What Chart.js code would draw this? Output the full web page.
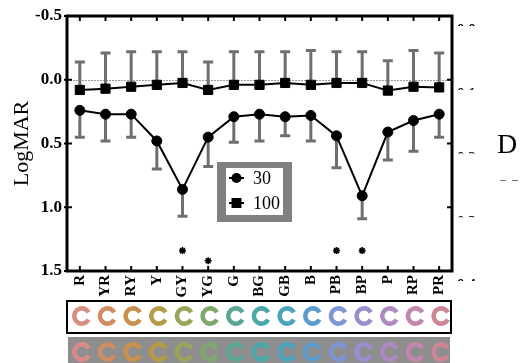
<!DOCTYPE html><html><head>
<title>LogMAR chart</title>
<style>body{margin:0;background:#fff}</style>
</head>
<body>
<canvas id="chart" width="521" height="363"></canvas>
<script src="https://cdn.jsdelivr.net/npm/chart.js"></script>
<script>
const categories = ['R','YR','RY','Y','GY','YG','G','BG','GB','B','PB','BP','P','RP','PR'];
// mean LogMAR and end of the error bar
const logmar30  = [0.24,0.27,0.27,0.48,0.86,0.45,0.29,0.27,0.29,0.28,0.44,0.91,0.41,0.32,0.27];
const low30     = [0.45,0.48,0.45,0.70,1.07,0.68,0.49,0.48,0.44,0.48,0.69,1.09,0.63,0.56,0.45];
const logmar100 = [0.08,0.07,0.055,0.04,0.025,0.08,0.04,0.04,0.025,0.04,0.025,0.025,0.085,0.055,0.06];
const high100   = [-0.14,-0.21,-0.22,-0.22,-0.22,-0.14,-0.22,-0.22,-0.22,-0.23,-0.22,-0.22,-0.15,-0.23,-0.21];
const stars     = [null,null,null,null,1.34,1.42,null,null,null,null,1.34,1.34,null,null,null];
const rightTicks = ['0.4','0.3','0.2','0.1','0.0'];
const swatches = ['#d98c85','#d08c62','#c99150','#b59b48','#9ba458','#80a86e','#5aa894','#4aa8a8',
                  '#4aa3bf','#5b9ccd','#7d95d2','#9b8ed0','#b089c2','#c586ae','#cf8594'];

const serif = "'Liberation Serif', 'Times New Roman', serif";

const decor = {
  id: 'decor',
  beforeDatasetsDraw(chart) {
    const {ctx, chartArea: a, scales: {x, y}} = chart;
    ctx.save();
    // dotted zero line
    ctx.strokeStyle = '#999'; ctx.lineWidth = 1; ctx.setLineDash([2, 1]);
    const y0 = Math.round(y.getPixelForValue(0)) + 0.5;
    ctx.beginPath(); ctx.moveTo(a.left, y0); ctx.lineTo(a.right, y0); ctx.stroke();
    ctx.setLineDash([]);
    // error bars
    ctx.strokeStyle = '#6f6f6f'; ctx.lineWidth = 3;
    const bars = (vals, ends) => vals.forEach((v, i) => {
      const px = x.getPixelForValue(i), p0 = y.getPixelForValue(v), p1 = y.getPixelForValue(ends[i]);
      ctx.beginPath();
      ctx.moveTo(px, p0); ctx.lineTo(px, p1);
      ctx.moveTo(px - 5, p1); ctx.lineTo(px + 5, p1);
      ctx.stroke();
    });
    bars(logmar30, low30);
    bars(logmar100, high100);
    ctx.restore();
  },
  afterDraw(chart) {
    const {ctx, chartArea: a, scales: {x, y}} = chart;
    ctx.save();
    // frame + inward ticks
    ctx.strokeStyle = '#000'; ctx.lineWidth = 3;
    ctx.strokeRect(a.left, a.top, a.right - a.left, a.bottom - a.top);
    ctx.lineWidth = 2;
    ctx.beginPath();
    y.ticks.forEach(t => {
      const py = y.getPixelForValue(t.value);
      ctx.moveTo(a.left - 3, py); ctx.lineTo(a.left + 5, py);
      ctx.moveTo(a.right - 5, py); ctx.lineTo(a.right, py);
    });
    categories.forEach((c, i) => {
      const px = x.getPixelForValue(i);
      ctx.moveTo(px, a.top); ctx.lineTo(px, a.top + 5);
      ctx.moveTo(px, a.bottom); ctx.lineTo(px, a.bottom - 5);
    });
    ctx.stroke();

    // right axis labels, only their top edge is visible
    ctx.fillStyle = '#000'; ctx.font = 'bold 15px ' + serif; ctx.textBaseline = 'top';
    y.ticks.forEach((t, i) => {
      const py = y.getPixelForValue(t.value);
      ctx.save();
      ctx.beginPath(); ctx.rect(a.right + 3, py + 7, 30, 3); ctx.clip();
      ctx.fillText(rightTicks[i], a.right + 5, py + 7);
      ctx.restore();
    });
    ctx.font = '28px ' + serif; ctx.textBaseline = 'alphabetic';
    ctx.fillText('D', 497, 153);
    ctx.strokeStyle = '#777'; ctx.lineWidth = 1;
    ctx.beginPath(); ctx.moveTo(500, 180.5); ctx.lineTo(506, 180.5); ctx.moveTo(512, 180.5); ctx.lineTo(518, 180.5); ctx.stroke();

    // legend
    ctx.fillStyle = '#808080'; ctx.fillRect(217, 162, 75, 60);
    ctx.fillStyle = '#fff'; ctx.fillRect(226, 168, 57, 47);
    const rows = [[178, 'circle'], [203, 'rect']];
    chart.data.datasets.slice(0, 2).forEach((ds, i) => {
      const ry = rows[i][0];
      ctx.strokeStyle = '#000'; ctx.fillStyle = '#000'; ctx.lineWidth = 2;
      ctx.beginPath(); ctx.moveTo(229, ry); ctx.lineTo(244, ry); ctx.stroke();
      ctx.beginPath();
      if (rows[i][1] === 'circle') ctx.arc(236.5, ry, 5, 0, Math.PI * 2);
      else ctx.rect(231.5, ry - 5, 10, 10);
      ctx.fill();
      ctx.font = '18px ' + serif; ctx.textBaseline = 'middle';
      ctx.fillText(ds.label, 253, ry + 1);
    });

    // colour samples under the axis
    ctx.fillStyle = '#fff'; ctx.fillRect(67, 301, 384, 32);
    ctx.strokeStyle = '#000'; ctx.lineWidth = 2; ctx.strokeRect(67, 301, 384, 32);
    ctx.fillStyle = '#8e8e8e'; ctx.fillRect(68, 337, 382, 26);
    ctx.lineWidth = 4.5;
    swatches.forEach((col, i) => {
      const px = x.getPixelForValue(i) + 2;
      [316, 352].forEach(cy => {
        ctx.strokeStyle = col;
        ctx.beginPath(); ctx.arc(px, cy, 7.6, 0.5, Math.PI * 2 - 0.5); ctx.stroke();
      });
    });
    ctx.restore();
  }
};

new Chart(document.getElementById('chart').getContext('2d'), {
  type: 'line',
  data: {
    labels: categories,
    datasets: [
      {label: '30', data: logmar30, borderColor: '#000', backgroundColor: '#000', borderWidth: 2,
       pointStyle: 'circle', pointRadius: 5, pointBorderWidth: 1},
      {label: '100', data: logmar100, borderColor: '#000', backgroundColor: '#000', borderWidth: 2,
       pointStyle: 'rect', pointRadius: 6.5, pointBorderWidth: 1},
      {label: 'sig', data: stars, showLine: false, borderColor: '#000', backgroundColor: '#000',
       pointStyle: 'star', pointRadius: 3.5, pointBorderWidth: 1.6}
    ]
  },
  options: {
    responsive: false,
    animation: false,
    devicePixelRatio: 1,
    layout: {padding: {top: 16, right: 69, bottom: 0, left: 0}},
    plugins: {legend: {display: false}, tooltip: {enabled: false}},
    scales: {
      x: {
        offset: true,
        grid: {display: false, drawTicks: false},
        border: {display: false},
        ticks: {autoSkip: false, minRotation: 90, maxRotation: 90, padding: 4, color: '#000',
                font: {family: serif, size: 15, weight: 'bold'}},
        afterFit: s => { s.height = 92; }
      },
      y: {
        reverse: true, min: -0.5, max: 1.5,
        grid: {display: false, drawTicks: false},
        border: {display: false},
        ticks: {stepSize: 0.5, padding: 5, color: '#000',
                font: {family: serif, size: 17, weight: 'bold'},
                callback: v => v.toFixed(1)},
        title: {display: true, text: 'LogMAR', color: '#000', padding: {top: 9, bottom: 0},
                font: {family: serif, size: 22}},
        afterFit: s => { s.width = 67; }
      }
    }
  },
  plugins: [decor]
});
</script>
</body></html>
